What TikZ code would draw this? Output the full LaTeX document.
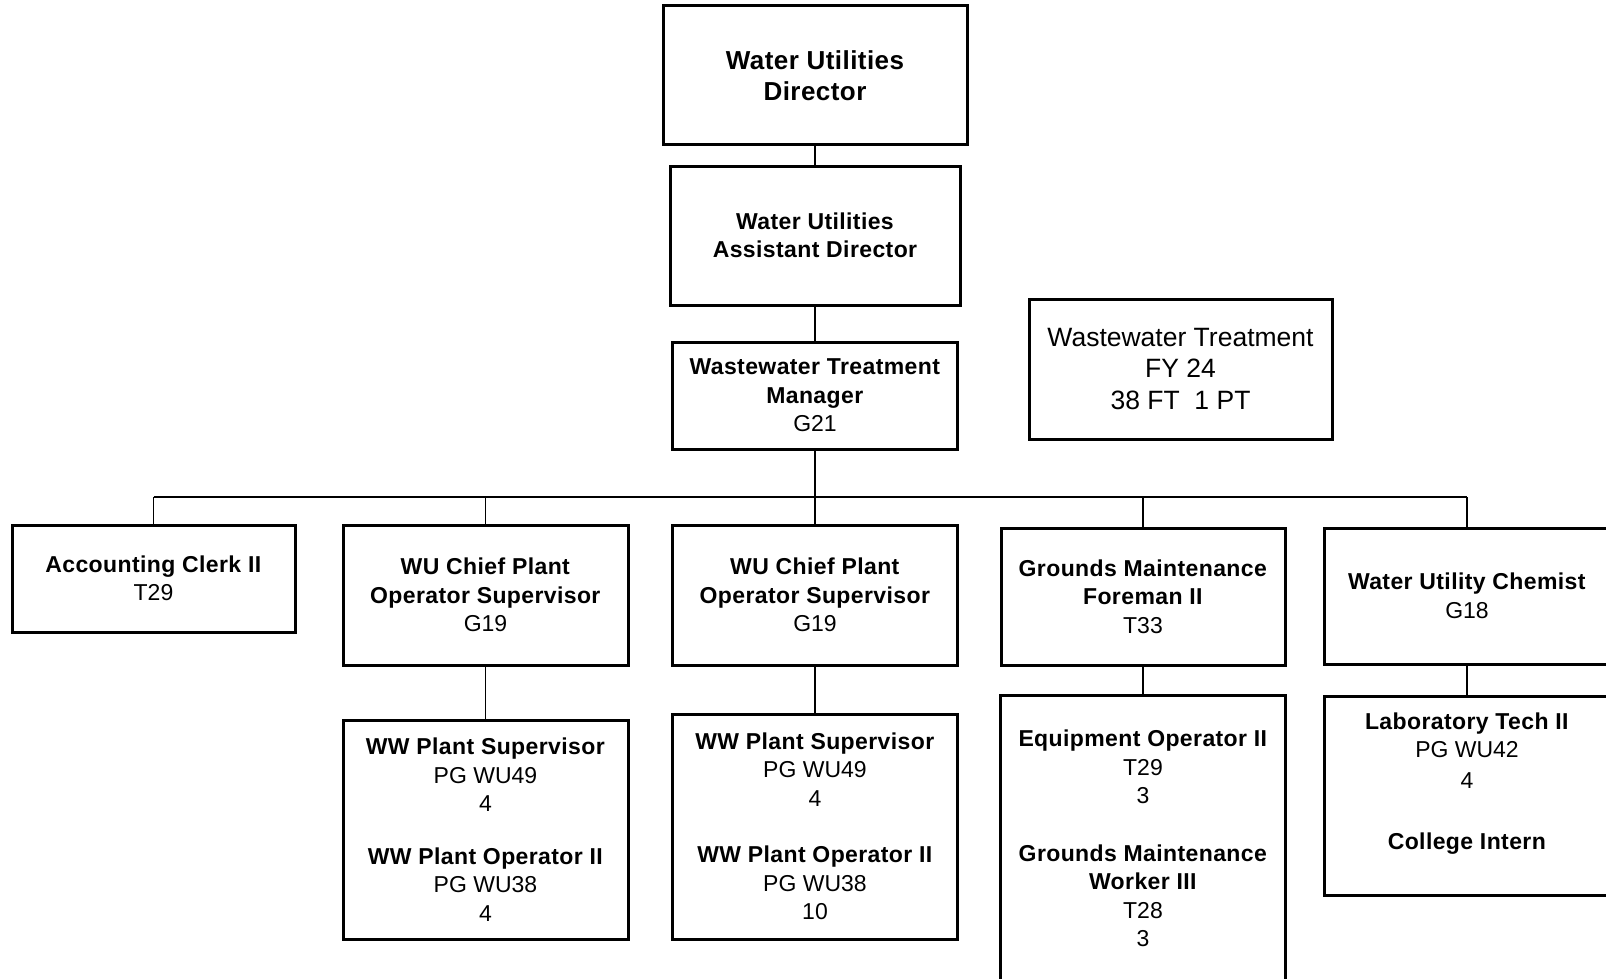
\documentclass[tikz,border=0pt]{standalone}
\usepackage{fontspec}
\setmainfont{Liberation Sans}[BoldFeatures={LetterSpace=1.7}]
\begin{document}
\begin{tikzpicture}[x=1pt,y=-1pt,
  box/.style={draw, line width=3pt, align=center, inner sep=0pt,
    font=\fontsize{23}{28.5}\selectfont},
  link/.style={line width=1.2pt},
  trunk/.style={line width=2pt}]
\useasboundingbox (0,0) rectangle (1606,979);
\fill[white] (0,0) rectangle (1606,979);
\clip (0,0) rectangle (1606,979);

% top of the chain
\node[box, minimum width=304pt, minimum height=139pt,
  font=\fontsize{26}{31}\selectfont\bfseries] (dir) at (815,75.5)
  {Water Utilities\\Director};
\node[box, minimum width=290pt, minimum height=139pt, font=\fontsize{23}{28.5}\selectfont\bfseries]
  (asst) at (815,235.5) {Water Utilities\\Assistant Director};
\node[box, minimum width=285pt, minimum height=107pt] (mgr) at (815,395.5)
  {\textbf{Wastewater Treatment}\\\textbf{Manager}\\G21};

% staffing summary
\node[box, minimum width=303pt, minimum height=140pt,
  font=\fontsize{26.5}{31.7}\selectfont] (fy) at (1180.5,369)
  {Wastewater Treatment\\FY 24\\38 FT\ \ 1 PT};

% direct reports
\node[box, minimum width=283pt, minimum height=107pt] (acct) at (153.5,578.5)
  {\textbf{Accounting Clerk II}\\T29};
\node[box, minimum width=285pt, minimum height=140pt] (ch1) at (485.5,595)
  {\textbf{WU Chief Plant}\\\textbf{Operator Supervisor}\\G19};
\node[box, minimum width=285pt, minimum height=140pt] (ch2) at (815,595)
  {\textbf{WU Chief Plant}\\\textbf{Operator Supervisor}\\G19};
\node[box, minimum width=284pt, minimum height=137pt] (fore) at (1143,596.5)
  {\textbf{Grounds Maintenance}\\\textbf{Foreman II}\\T33};
\node[box, minimum width=286pt, minimum height=136pt] (chem) at (1467,596)
  {\textbf{Water Utility Chemist}\\G18};

% second level
\node[box, minimum width=285pt, minimum height=219pt] (ww1) at (485.5,829.5)
  {\textbf{WW Plant Supervisor}\\PG WU49\\4\\[24pt]
   \textbf{WW Plant Operator II}\\PG WU38\\4};
\node[box, minimum width=285pt, minimum height=225pt] (ww2) at (815,826.5)
  {\textbf{WW Plant Supervisor}\\PG WU49\\4\\[28pt]
   \textbf{WW Plant Operator II}\\PG WU38\\10};
\node[box, minimum width=285pt, minimum height=287pt] (equip) at (1143,838.5)
  {\textbf{Equipment Operator II}\\T29\\3\\[29pt]
   \textbf{Grounds Maintenance}\\\textbf{Worker III}\\T28\\3};
\node[box, minimum width=286pt, minimum height=199pt] (lab) at (1467,795.5)
  {\textbf{Laboratory Tech II}\\PG WU42\\[2.5pt]4\\[32.5pt]
   \textbf{College Intern}\\~};

% connectors
\coordinate (bus) at (815,497);
\draw[link] (dir.south) -- (asst.north);
\draw[link] (asst.south) -- (mgr.north);
\draw[trunk] (mgr.south) -- (bus);
\draw[link] (acct.north |- bus) -- (chem.north |- bus);
\foreach \n in {acct,ch1,ch2,fore,chem}
  \draw[link] (\n.north) -- (\n.north |- bus);
\draw[link] (ch1.south) -- (ww1.north);
\draw[link] (ch2.south) -- (ww2.north);
\draw[link] (fore.south) -- (equip.north);
\draw[link] (chem.south) -- (lab.north);
\end{tikzpicture}
\end{document}
